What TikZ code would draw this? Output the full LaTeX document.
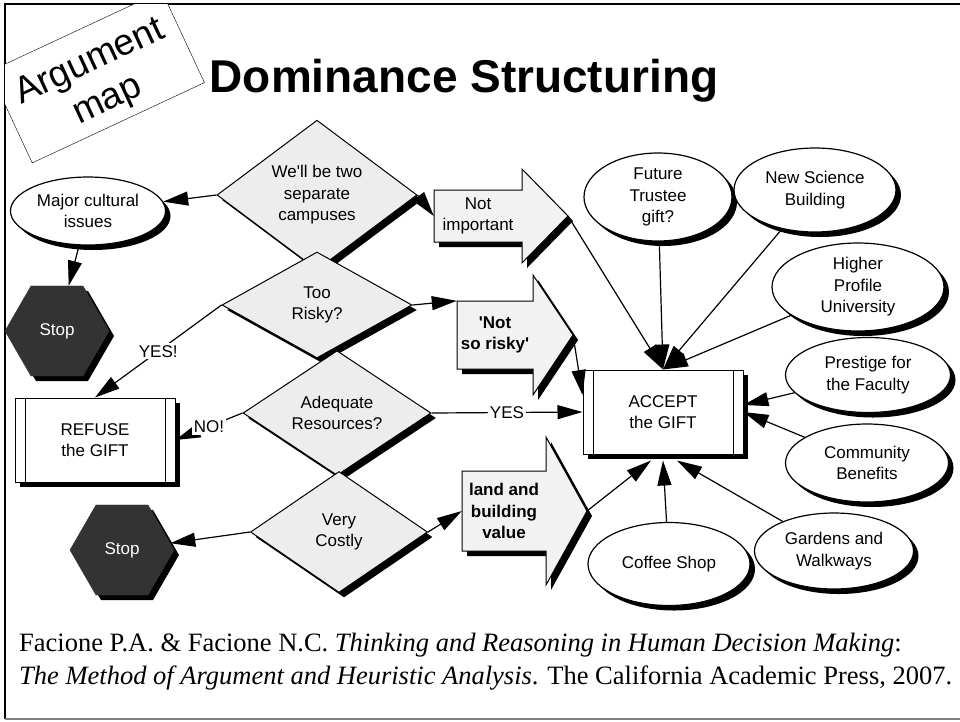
\documentclass[tikz,border=0pt]{standalone}
\usepackage{fontspec}
\setmainfont{Liberation Sans}
\newfontfamily\citefont{Liberation Serif}
\usetikzlibrary{
	calc,
	arrows.meta,
	shapes,
	shadows,
	positioning
	}
\tikzset{font={\fontsize{17pt}{21.5}\selectfont}}
\definecolor{grisclair}{HTML}{EDEDED}
\definecolor{grisfleche}{HTML}{F2F2F2}
\definecolor{grisstop}{HTML}{333333}
\tikzstyle{ombre-std}=[drop shadow={shadow xshift=5pt,shadow yshift=-5pt,fill=black,opacity=1}]
\tikzstyle{bulle-std}=[draw,ellipse,fill=white,line width=1.2pt,inner sep=0pt,align=center,ombre-std]
\tikzstyle{losange-std}=[draw,diamond,fill=grisclair,line width=1pt,inner sep=0pt,align=center,ombre-std]
\tikzstyle{stop-std}=[draw=grisstop,regular polygon,regular polygon sides=6,fill=grisstop,text=white,minimum size=104pt,inner sep=0pt,ombre-std]
\tikzstyle{boite-std}=[draw,rectangle,fill=white,line width=1pt,minimum width=160pt,minimum height=84pt,align=center,ombre-std,
	path picture={\draw[line width=1pt] ([xshift=10pt]path picture bounding box.north west) -- ([xshift=10pt]path picture bounding box.south west)
		([xshift=-10pt]path picture bounding box.north east) -- ([xshift=-10pt]path picture bounding box.south east);}]
\tikzstyle{fleche-std}=[draw,fill=grisfleche,line width=1pt]
\tikzstyle{lien-std}=[line width=1.2pt,-{Triangle[length=25pt,width=14pt]}]
\tikzstyle{etiquette-std}=[fill=white,inner sep=2pt]
% nom, x queue, x base pointe, x pointe, y milieu, demi-corps, demi-pointe, texte
\newcommand{\grossefleche}[8]{%
	\fill[black,shift={(5,5)}] (#2,#5-#6) -- (#3,#5-#6) -- (#3,#5-#7) -- (#4,#5) -- (#3,#5+#7) -- (#3,#5+#6) -- (#2,#5+#6) -- cycle;
	\filldraw[fleche-std] (#2,#5-#6) -- (#3,#5-#6) -- (#3,#5-#7) -- (#4,#5) -- (#3,#5+#7) -- (#3,#5+#6) -- (#2,#5+#6) -- cycle;
	\node[inner sep=0pt,minimum width=#3-#2,minimum height=2*#6,align=center] (#1) at ({(#2+#3)/2},#5) {#8};
	\coordinate (#1-pointe) at (#4,#5);
}

\begin{document}
\begin{tikzpicture}[x=1pt,y=-1pt]
	\useasboundingbox (0,0) rectangle (960,721);
	\draw[line width=2pt] (5,719) -- (5,4) -- (960,4);
	\draw[gray,line width=1.5pt] (5,719) -- (960,719);
	\begin{scope}
		\clip (5,4) rectangle (960,721);
		\node[draw,fill=white,rotate=25,minimum width=190pt,minimum height=101pt] (carte) at (97,77) {};
		\node[rotate=25,align=center,inner sep=0pt,font=\fontsize{37}{42}\selectfont] (carte-texte)
			at ($(carte.center)+(2,5)$) {Argument\\map};
	\end{scope}
	\node[font=\fontsize{46}{46}\selectfont\bfseries,anchor=base] (titre) at (464,92) {Dominance Structuring};
	%
	\node[bulle-std,minimum width=155pt,minimum height=68pt] (culture) at (88,211) {Major cultural\\issues};
	\node[losange-std,minimum width=200pt,minimum height=112pt] (campus) at (317,195) {We\textquotesingle ll be two\\separate\\campuses};
	\node[losange-std,minimum width=190pt,minimum height=106pt] (risque) at (317,305) {Too\\Risky?};
	\node[losange-std,minimum width=188pt,minimum height=112pt] (ressources) at (337,413) {Adequate\\Resources?};
	\node[losange-std,minimum width=177pt,minimum height=121pt] (cout) at (339,532) {Very\\Costly};
	\node[stop-std] (stop1) at (57,331) {Stop};
	\node[stop-std] (stop2) at (122,550) {Stop};
	\node[boite-std] (refus) at (95,440) {REFUSE\\the GIFT};
	\node[boite-std] (accepte) at (663,412) {ACCEPT\\the GIFT};
	%
	\grossefleche{important}{434}{522}{568}{216}{26}{47}{Not\\important}
	\grossefleche{risquee}{457}{533}{573}{335}{34}{60}{\textbf{\textquotesingle Not}\\\textbf{so risky\textquotesingle}}
	\grossefleche{terrain}{462}{546}{587}{511}{40}{74}{\textbf{land and}\\\textbf{building}\\\textbf{value}}
	%
	\node[bulle-std,minimum width=148pt,minimum height=88pt] (donateur) at (658,197) {Future\\Trustee\\gift?};
	\node[bulle-std,minimum width=162pt,minimum height=84pt] (science) at (815,190) {New Science\\Building};
	\node[bulle-std,minimum width=172pt,minimum height=88pt] (profil) at (858,287) {Higher\\Profile\\University};
	\node[bulle-std,minimum width=165pt,minimum height=75pt] (prestige) at (868,375) {Prestige for\\the Faculty};
	\node[bulle-std,minimum width=163pt,minimum height=78pt] (communaute) at (867,463) {Community\\Benefits};
	\node[bulle-std,minimum width=159pt,minimum height=76pt] (jardins) at (834,551) {Gardens and\\Walkways};
	\node[bulle-std,minimum width=162pt,minimum height=83pt] (cafe) at (669,564) {Coffee Shop};
	%
	\draw[lien-std] (campus.west) -- (culture);
	\draw[lien-std] (campus.east) -- (important.west);
	\draw[lien-std] (culture) -- (stop1);
	\draw[lien-std] (risque.west) -- node[etiquette-std] {YES!} (refus.north);
	\draw[lien-std] (risque.east) -- (risquee.north west);
	\draw[lien-std] (ressources.west) -- node[etiquette-std] {NO!} (refus.east);
	\draw[lien-std] (ressources.east) -- node[etiquette-std] {YES} (accepte.west);
	\draw[lien-std] (cout.west) -- (stop2);
	\draw[lien-std] (cout.east) -- (terrain.west);
	\draw[lien-std] (important-pointe) -- (accepte.north);
	\draw[lien-std] (donateur) -- (accepte.north);
	\draw[lien-std] (science) -- (accepte.north);
	\draw[lien-std] (profil) -- (accepte.north);
	\draw[lien-std] (risquee-pointe) -- ([yshift=17pt]accepte.west);
	\draw[lien-std] (prestige) -- ([yshift=7pt]accepte.east);
	\draw[lien-std] (communaute) -- (accepte.east);
	\draw[lien-std] (terrain-pointe) -- ([xshift=-12pt,yshift=-6pt]accepte.south);
	\draw[lien-std] (cafe) -- ([yshift=-6pt]accepte.south);
	\draw[lien-std] (jardins) -- ([xshift=14pt,yshift=-6pt]accepte.south);
	%
	\node[anchor=base west,inner sep=0pt,font=\citefont\fontsize{26.5}{30}\selectfont] (ref1) at (19,651)
		{Facione P.A. \& Facione N.C. \textit{Thinking and Reasoning in Human Decision Making}:};
	\node[anchor=base west,inner sep=0pt,font=\citefont\fontsize{26.5}{30}\selectfont] (ref2) at (19,684)
		{\textit{The Method of Argument and Heuristic Analysis}. The California Academic Press, 2007.};
\end{tikzpicture}
\end{document}
